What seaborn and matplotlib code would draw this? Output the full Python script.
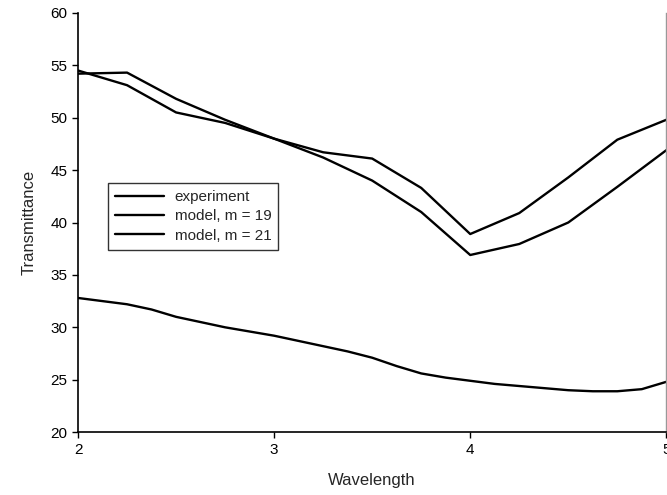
import matplotlib
matplotlib.use("Agg")
import matplotlib.pyplot as plt
import seaborn as sns
import pandas as pd

# Experiment (spectral curve)
exp_wavelength = [2.0, 2.125, 2.25, 2.375, 2.5, 2.625, 2.75, 2.875, 3.0, 3.125, 3.25, 3.375,
                  3.5, 3.625, 3.75, 3.875, 4.0, 4.125, 4.25, 4.375, 4.5, 4.625, 4.75, 4.875, 5.0]
exp_transmittance = [32.8, 32.5, 32.2, 31.7, 31.0, 30.5, 30.0, 29.6, 29.2, 28.7, 28.2, 27.7,
                     27.1, 26.3, 25.6, 25.2, 24.9, 24.6, 24.4, 24.2, 24.0, 23.9, 23.9, 24.1, 24.8]

# Models
model_wavelength = [2.0, 2.25, 2.5, 2.75, 3.0, 3.25, 3.5, 3.75, 4.0, 4.25, 4.5, 4.75, 5.0]
model_m19 = [54.2, 54.3, 51.8, 49.8, 48.0, 46.7, 46.1, 43.3, 38.9, 40.9, 44.3, 47.9, 49.8]
model_m21 = [54.5, 53.1, 50.5, 49.5, 48.0, 46.2, 44.0, 41.0, 36.9, 37.95, 40.0, 43.4, 46.9]

series_names = ["experiment", "model, m = 19", "model, m = 21"]
y_ticks = [20, 25, 30, 35, 40, 45, 50, 55, 60]
x_ticks = [2, 3, 4, 5]

df = pd.concat([
    pd.DataFrame({"Wavelength": exp_wavelength, "Transmittance": exp_transmittance, "series": series_names[0]}),
    pd.DataFrame({"Wavelength": model_wavelength, "Transmittance": model_m19, "series": series_names[1]}),
    pd.DataFrame({"Wavelength": model_wavelength, "Transmittance": model_m21, "series": series_names[2]}),
], ignore_index=True)

sns.set_style("ticks")
plt.rcParams["font.family"] = ["Liberation Sans", "DejaVu Sans"]

fig = plt.figure(figsize=(6.67, 4.95), dpi=100)
ax = fig.add_axes([0.117, 0.127, 0.882, 0.847])

sns.lineplot(data=df, x="Wavelength", y="Transmittance", hue="series",
             palette=["black", "black", "black"], linewidth=1.7, ax=ax,
             estimator=None, sort=False)

ax.set_xlim(2, 5)
ax.set_ylim(20, 60)
ax.set_xticks(x_ticks)
ax.set_yticks(y_ticks)
ax.tick_params(axis="both", direction="out", length=4, width=1, labelsize=11, colors="black")
ax.set_xlabel("Wavelength", fontsize=12, labelpad=12)
ax.set_ylabel("Transmittance", fontsize=12, labelpad=10)

for s in ["left", "bottom"]:
    ax.spines[s].set_color("black")
    ax.spines[s].set_linewidth(1.2)
ax.spines["top"].set_visible(False)
ax.spines["right"].set_visible(True)
ax.spines["right"].set_color("#999999")
ax.spines["right"].set_linewidth(1.0)

leg = ax.legend(loc="upper left", bbox_to_anchor=(0.051, 0.594), frameon=True, fancybox=False,
                edgecolor="black", fontsize=11, handlelength=3.2, borderpad=0.45,
                labelspacing=0.35, handletextpad=0.7, title=None, borderaxespad=0)
leg.get_frame().set_linewidth(1.0)
for line in leg.get_lines():
    line.set_linewidth(1.7)

fig.savefig("out.png", dpi=100)
